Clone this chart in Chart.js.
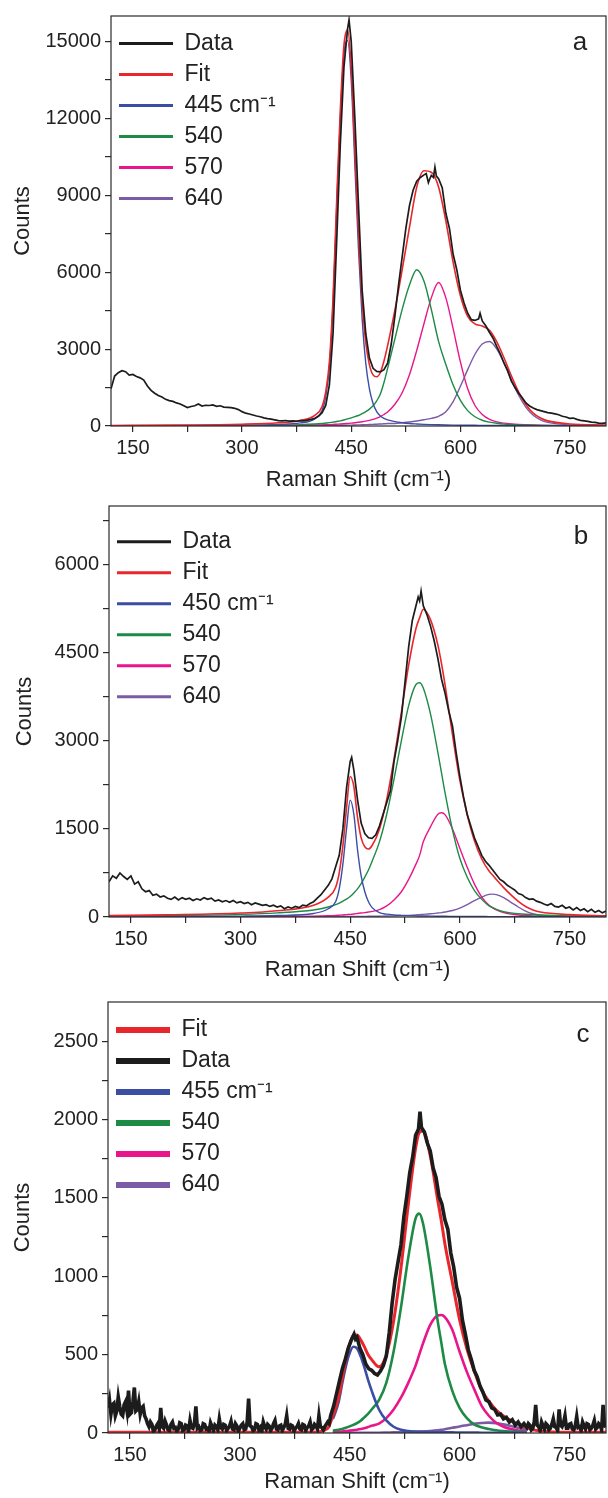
<!DOCTYPE html>
<html>
<head>
<meta charset="utf-8">
<script src="https://cdn.jsdelivr.net/npm/chart.js@4.4.1/dist/chart.umd.min.js"></script>
<style>
html,body{margin:0;padding:0;background:#fff;}
body{width:608px;height:1498px;position:relative;overflow:hidden;}
canvas{position:absolute;left:0;}
</style>
</head>
<body>
<canvas id="ca" width="608" height="500" style="top:0px"></canvas>
<canvas id="cb" width="608" height="500" style="top:490px"></canvas>
<canvas id="cc" width="608" height="518" style="top:980px"></canvas>
<script>
// ---------- axis ticks ----------
const xTickVals = [150,225,300,375,450,525,600,675,750];
const xLabelVals = [150,300,450,600,750];
const yTicksA = [0,1500,3000,4500,6000,7500,9000,10500,12000,13500,15000];
const yLabelsA = [0,3000,6000,9000,12000,15000];
const yTicksB = [0,750,1500,2250,3000,3750,4500,5250,6000,6750];
const yLabelsB = [0,1500,3000,4500,6000];
const yTicksC = [0,250,500,750,1000,1250,1500,1750,2000,2250,2500];
const yLabelsC = [0,500,1000,1500,2000,2500];

// ---------- legend labels ----------
const labelsA = ['Data','Fit','445 cm\u207B\u00B9','540','570','640'];
const labelsB = ['Data','Fit','450 cm\u207B\u00B9','540','570','640'];
const labelsC = ['Fit','Data','455 cm\u207B\u00B9','540','570','640'];

// ---------- panel a ----------
const gridA = [120,200,300,350,380,400,410,415,420,425,430,435,440,445,450,455,460,465,470,475,480,485,490,495,500,510,520,530,540,550,560,570,580,590,600,610,620,630,640,650,660,670,680,690,700,710,720,750,800];
const fitA = [20,35,70,126,217,415,764,1335,2507,4986,8771,12306,14853,15458,13968,10732,7499,4893,3253,2388,1994,1920,2088,2536,3135,4520,6100,7750,9323,9959,9904,9327,8001,6386,5082,4279,3987,3900,3733,3286,2654,1956,1322,830,503,310,200,81,37];
const p445A = [10,15,30,60,120,280,600,1150,2300,4750,8500,12000,14500,15050,13500,10200,6900,4200,2450,1450,880,560,390,300,240,170,125,95,78,64,54,47,41,36,32,29,27,25,23,21,19,18,17,16,15,14,13,11,8];
const p540A = [5,10,20,35,55,80,100,115,130,150,175,200,235,275,320,365,410,480,560,660,790,980,1250,1700,2250,3400,4550,5500,6100,5650,4550,3300,2400,1600,1000,600,360,225,150,105,75,58,45,36,30,25,21,14,8];
const p570A = [3,6,12,20,28,38,45,50,55,62,70,78,88,100,112,127,145,165,190,220,260,310,370,450,550,850,1300,2000,2950,4000,5000,5600,5000,3800,2500,1450,800,450,260,160,110,80,60,48,38,31,26,16,9];
const p640A = [2,4,8,11,14,17,19,20,22,24,26,28,30,33,36,40,44,48,53,58,64,70,78,86,95,100,125,155,195,245,300,380,560,950,1550,2200,2800,3200,3300,3000,2450,1800,1200,730,420,240,140,40,12];
const dataA = [[120,1450],[125,1950],[130,2080],[135,2160],[140,2120],[145,1990],[150,2010],[155,1930],[160,1880],[165,1790],[170,1560],[175,1390],[180,1280],[185,1190],[190,1130],[195,1040],[200,990],[205,960],[210,900],[215,860],[220,790],[225,720],[230,760],[235,790],[240,860],[245,780],[250,810],[255,800],[260,820],[265,770],[270,790],[275,740],[280,730],[285,720],[290,690],[295,640],[300,560],[305,500],[310,470],[315,430],[320,390],[325,360],[330,320],[335,290],[340,270],[345,240],[350,210],[355,200],[360,215],[365,190],[370,200],[375,185],[380,210],[385,200],[390,230],[395,260],[400,300],[405,380],[410,520],[415,800],[420,1600],[425,3600],[430,7200],[435,11000],[440,14000],[445,15500],[447,15850],[450,15000],[455,12000],[460,8600],[465,5300],[470,3600],[475,2650],[480,2250],[485,2130],[490,2110],[495,2200],[500,2450],[505,3200],[510,4300],[515,5500],[520,6600],[525,7700],[530,8600],[535,9200],[540,9550],[545,9700],[550,9800],[553,9850],[556,9500],[558,9650],[560,9780],[563,9700],[565,10100],[567,9750],[570,9650],[575,9300],[580,8300],[585,7700],[590,6700],[595,6100],[600,5300],[605,4800],[610,4400],[615,4150],[620,4120],[625,4180],[627,4400],[630,4100],[635,3900],[640,3650],[645,3420],[650,3100],[655,2800],[660,2450],[665,2150],[670,1750],[675,1500],[680,1280],[685,1100],[690,900],[695,780],[700,700],[705,640],[710,600],[715,560],[720,520],[725,500],[730,470],[735,440],[740,380],[745,350],[750,300],[755,310],[760,260],[765,220],[770,200],[775,180],[780,150],[785,140],[790,110],[795,100],[800,120]];

// ---------- panel b ----------
const gridB = [120,200,300,350,400,420,430,435,440,445,450,455,460,465,470,475,480,490,500,510,520,530,540,545,550,560,570,575,580,590,600,610,620,630,640,645,650,660,670,680,690,700,710,750,800];
const fitB = [23,37,67,106,200,338,504,753,1213,1853,2394,2221,1700,1348,1196,1157,1217,1494,2004,2694,3481,4291,4914,5098,5242,5060,4631,4312,3937,3101,2330,1749,1298,988,782,712,637,501,376,265,178,120,84,40,22];
const p450B = [5,8,15,25,60,140,260,480,900,1500,1990,1750,1150,700,430,260,160,75,48,35,28,23,19,18,17,15,13,12,12,11,10,9,8,8,7,7,7,6,6,5,5,5,5,4,3];
const p540B = [15,25,45,70,120,170,210,235,270,305,350,410,480,570,680,800,950,1280,1750,2350,3000,3600,3960,3990,3900,3450,2800,2450,2100,1480,1000,680,450,300,190,160,130,90,70,55,46,40,34,20,12];
const p570B = [2,3,5,8,15,22,27,31,35,40,45,52,60,68,75,85,95,125,190,290,430,640,900,1050,1280,1540,1750,1775,1740,1500,1170,850,560,340,200,155,120,75,50,35,27,20,15,8,4];
const p640B = [1,1,2,3,5,6,7,7,8,8,9,9,10,10,11,12,12,14,16,19,23,28,35,40,45,55,68,75,85,110,150,210,280,340,385,390,380,330,250,170,100,55,30,8,3];
const dataB = [[120,600],[125,700],[130,660],[135,750],[140,690],[145,640],[150,700],[155,560],[160,600],[165,480],[170,430],[175,450],[180,370],[185,390],[190,340],[195,360],[200,320],[205,300],[210,340],[215,290],[220,330],[225,300],[230,320],[235,280],[240,310],[245,290],[250,330],[255,300],[260,320],[265,270],[270,290],[275,260],[280,280],[285,250],[290,280],[295,240],[300,260],[305,230],[310,250],[315,210],[320,240],[325,220],[330,200],[335,210],[340,180],[345,200],[350,170],[355,190],[360,140],[365,170],[370,150],[375,180],[380,160],[385,200],[390,190],[395,230],[400,260],[405,320],[410,380],[415,460],[420,540],[425,650],[430,850],[435,1050],[440,1500],[445,2200],[450,2650],[452,2720],[455,2500],[460,2000],[465,1600],[470,1420],[475,1350],[480,1340],[485,1400],[490,1550],[495,1750],[500,1950],[505,2150],[510,2650],[515,3000],[520,3400],[525,4000],[530,4600],[535,5050],[540,5300],[543,5450],[545,5380],[547,5550],[550,5300],[555,5150],[560,4950],[565,4700],[570,4400],[575,4050],[580,3800],[585,3500],[590,3250],[595,2800],[600,2400],[605,2050],[610,1750],[615,1550],[620,1350],[625,1200],[630,1050],[635,950],[640,880],[645,800],[650,720],[655,640],[660,600],[665,540],[670,500],[675,460],[680,400],[685,380],[690,330],[695,300],[700,310],[705,270],[710,250],[715,220],[720,200],[725,230],[730,180],[735,170],[740,200],[745,150],[750,170],[755,120],[760,160],[765,110],[770,140],[775,90],[780,130],[785,80],[790,110],[795,70],[800,100]];

// ---------- panel c ----------
const gridC = [427,430,435,440,445,450,455,460,465,470,475,480,490,500,510,520,530,540,545,550,560,570,575,580,590,600,610,620,630,640,650,660,670,680,692];
const p455C = [90,125,200,320,430,510,550,540,490,420,340,270,150,80,40,20,12,9,8,7,6,5,5,4,4,3,3,3,2,2,2,2,1,1,1];
const p540C = [15,17,21,26,33,42,52,63,78,100,122,150,210,320,520,800,1120,1370,1400,1340,1060,720,580,440,270,160,95,55,36,25,17,12,9,7,5];
const p570C = [5,6,8,10,12,15,18,21,25,30,38,46,60,95,150,225,320,430,500,570,690,750,753,740,660,520,390,280,175,110,65,40,25,15,8];
const p640C = [0,0,0,0,0,0,1,1,1,1,1,2,2,3,4,5,6,8,9,10,13,17,20,24,33,42,50,58,64,66,63,55,45,33,20];
const fitC = [[120,5],[170,5],[200,5],[250,5],[300,5],[350,5],[400,5],[420,30],[427,110],[430,148],[435,229],[440,356],[445,475],[450,567],[455,621],[460,625],[465,594],[470,551],[475,501],[480,468],[490,422],[500,498],[510,714],[520,1050],[530,1458],[540,1817],[545,1917],[550,1927],[560,1769],[570,1492],[575,1358],[580,1208],[590,967],[600,725],[610,538],[620,396],[630,277],[640,203],[650,147],[660,109],[670,80],[680,56],[692,34],[700,20],[750,5],[800,5]];
const dataC = [[120,160],[122,210],[124,120],[126,180],[128,190],[130,110],[132,140],[134,230],[136,170],[138,120],[140,110],[142,180],[144,200],[146,140],[148,270],[150,120],[152,130],[154,200],[156,290],[158,140],[160,150],[162,200],[164,120],[166,160],[168,170],[170,110],[172,90],[174,60],[176,40],[178,70],[180,55],[182,10],[184,20],[186,45],[188,60],[190,25],[192,160],[194,40],[196,30],[198,75],[200,50],[202,20],[204,15],[206,55],[208,70],[210,30],[212,35],[214,10],[216,25],[218,65],[220,60],[222,15],[224,20],[226,50],[228,45],[230,10],[232,80],[234,35],[236,30],[238,60],[240,170],[242,30],[244,40],[246,15],[248,20],[250,60],[252,55],[254,25],[256,30],[258,10],[260,65],[262,40],[264,15],[266,50],[268,40],[270,20],[272,90],[274,35],[276,25],[278,55],[280,50],[282,15],[284,30],[286,45],[288,75],[290,25],[292,20],[294,60],[296,45],[298,10],[300,30],[302,50],[304,60],[306,20],[308,25],[310,70],[312,220],[314,45],[316,40],[318,15],[320,20],[322,60],[324,55],[326,20],[328,35],[330,10],[332,70],[334,40],[336,25],[338,55],[340,45],[342,15],[344,30],[346,60],[348,80],[350,25],[352,20],[354,45],[356,50],[358,15],[360,35],[362,55],[364,110],[366,30],[368,25],[370,50],[372,45],[374,10],[376,30],[378,40],[380,60],[382,25],[384,20],[386,55],[388,50],[390,15],[392,35],[394,45],[396,70],[398,20],[400,30],[402,55],[404,45],[406,25],[408,110],[410,40],[412,35],[414,20],[416,40],[418,55],[420,70],[422,60],[424,110],[428,170],[432,250],[436,330],[440,410],[444,470],[448,540],[452,590],[456,630],[458,600],[460,610],[464,540],[468,500],[472,440],[476,410],[480,400],[484,380],[488,370],[492,395],[496,430],[500,490],[504,640],[508,830],[512,980],[516,1090],[520,1200],[524,1380],[528,1510],[532,1660],[536,1760],[540,1900],[544,1940],[546,2050],[548,1950],[552,1920],[556,1850],[560,1800],[564,1690],[568,1630],[572,1510],[576,1460],[580,1360],[584,1300],[588,1150],[592,1060],[596,930],[600,860],[604,720],[608,630],[612,530],[616,470],[620,400],[624,360],[628,300],[632,260],[636,210],[640,200],[644,160],[648,150],[652,115],[656,120],[660,90],[664,100],[668,70],[672,85],[676,50],[680,70],[684,40],[688,60],[692,35],[694,60],[696,50],[698,20],[700,30],[702,70],[704,180],[706,50],[708,40],[710,15],[712,70],[714,45],[716,25],[718,60],[720,50],[722,20],[724,30],[726,55],[728,90],[730,40],[732,35],[734,15],[736,150],[738,50],[740,40],[742,65],[744,110],[746,30],[748,30],[750,55],[752,60],[754,25],[756,20],[758,45],[760,105],[762,35],[764,40],[766,15],[768,70],[770,45],[772,25],[774,60],[776,55],[778,20],[780,30],[782,50],[784,80],[786,25],[788,35],[790,60],[792,50],[794,20],[796,180],[798,45],[800,40]];

// ---------- styling ----------
const FONT = '"Liberation Sans", Arial, Helvetica, sans-serif';
const COL = {data:'#1c1c1c', fit:'#e8262b', blue:'#3b4ea3', green:'#1d8a45', pink:'#e8168a', purple:'#7b5aa6'};
Chart.defaults.font.family = FONT;
Chart.defaults.color = '#222';

const xy = (grid, vals) => grid.map((x, i) => ({x: x, y: vals[i]}));
const pts = p => p.map(q => ({x: q[0], y: q[1]}));

function ds(label, data, color, width, order, smooth) {
  return {label, data, borderColor: color, backgroundColor: color, borderWidth: width,
    pointRadius: 0, fill: false, order: order,
    tension: smooth ? 0.4 : 0, cubicInterpolationMode: smooth ? 'monotone' : 'default'};
}

const framePlugin = {
  id: 'frame',
  afterDraw(chart, args, o) {
    const {ctx, chartArea: a} = chart;
    ctx.save();
    ctx.strokeStyle = '#2a2a2a';
    ctx.lineWidth = 1.2;
    ctx.strokeRect(a.left, a.top, a.right - a.left, a.bottom - a.top);
    ctx.fillStyle = '#222';
    ctx.font = '26px ' + FONT;
    ctx.textAlign = 'center';
    ctx.textBaseline = 'middle';
    ctx.fillText(o.letter, o.lx, o.ly);
    ctx.restore();
  }
};

function gridOpts() {
  return {display: true, drawOnChartArea: false, drawTicks: true, tickLength: 6,
    color: '#2a2a2a', tickColor: '#2a2a2a', lineWidth: 1.2};
}

function makePanel(id, P) {
  new Chart(document.getElementById(id), {
    type: 'line',
    data: {datasets: P.datasets},
    plugins: [framePlugin],
    options: {
      responsive: false, animation: false, devicePixelRatio: 1,
      layout: {padding: {top: P.padTop, right: 2, left: 0, bottom: 0}},
      plugins: {
        legend: {
          position: 'chartArea', align: 'start',
          title: {display: true, text: ' ', padding: {top: P.legPad, bottom: 0}, font: {size: 10}},
          labels: {
            boxWidth: 54, boxHeight: P.swatch, padding: 8,
            font: {size: 23, family: FONT}, color: '#222',
            generateLabels: ch => ch.data.datasets.map((d, i) => ({
              text: d.label, fillStyle: d.borderColor, strokeStyle: d.borderColor,
              lineWidth: 0, hidden: false, datasetIndex: i, fontColor: '#222'}))
          }
        },
        tooltip: {enabled: false},
        frame: {letter: P.letter, lx: P.lx, ly: P.ly}
      },
      scales: {
        x: {
          type: 'linear', min: 120, max: 800,
          afterBuildTicks: s => { s.ticks = xTickVals.map(v => ({value: v})); },
          afterFit: s => { s.height = P.xH; },
          ticks: {autoSkip: false, maxRotation: 0, minRotation: 0, padding: 4,
            font: {size: 20, family: FONT}, color: '#222',
            callback: v => xLabelVals.includes(v) ? String(v) : ''},
          grid: gridOpts(),
          border: {display: false},
          title: {display: true, text: 'Raman Shift (cm\u207B\u00B9)', color: '#222',
            font: {size: 22, family: FONT}, padding: {top: 0, bottom: P.xTitlePad}}
        },
        y: {
          type: 'linear', min: 0, max: P.yMax,
          afterBuildTicks: s => { s.ticks = P.yTicks.map(v => ({value: v})); },
          afterFit: s => { s.width = P.yW; },
          ticks: {autoSkip: false, padding: 4, font: {size: 20, family: FONT}, color: '#222',
            callback: v => P.yLabels.includes(v) ? String(v) : ''},
          grid: gridOpts(),
          border: {display: false},
          title: {display: true, text: 'Counts', color: '#222',
            font: {size: 22, family: FONT}, padding: {top: P.yTitlePad, bottom: 0}}
        }
      }
    }
  });
}

makePanel('ca', {
  padTop: 14, xH: 74, yW: 111, xTitlePad: 6.8, yTitlePad: 9.8, legPad: 12, swatch: 3,
  yMax: 16000, yTicks: yTicksA, yLabels: yLabelsA, letter: 'a', lx: 580, ly: 43,
  datasets: [
    ds(labelsA[0], pts(dataA), COL.data, 1.7, 0, false),
    ds(labelsA[1], xy(gridA, fitA), COL.fit, 1.6, 1, true),
    ds(labelsA[2], xy(gridA, p445A), COL.blue, 1.4, 2, true),
    ds(labelsA[3], xy(gridA, p540A), COL.green, 1.4, 2, true),
    ds(labelsA[4], xy(gridA, p570A), COL.pink, 1.4, 2, true),
    ds(labelsA[5], xy(gridA, p640A), COL.purple, 1.4, 2, true)
  ]
});

makePanel('cb', {
  padTop: 16, xH: 73, yW: 109, xTitlePad: 6.8, yTitlePad: 12, legPad: 20.2, swatch: 3,
  yMax: 7000, yTicks: yTicksB, yLabels: yLabelsB, letter: 'b', lx: 581, ly: 47,
  datasets: [
    ds(labelsB[0], pts(dataB), COL.data, 1.7, 0, false),
    ds(labelsB[1], xy(gridB, fitB), COL.fit, 1.6, 1, true),
    ds(labelsB[2], xy(gridB, p450B), COL.blue, 1.4, 2, true),
    ds(labelsB[3], xy(gridB, p540B), COL.green, 1.4, 2, true),
    ds(labelsB[4], xy(gridB, p570B), COL.pink, 1.4, 2, true),
    ds(labelsB[5], xy(gridB, p640B), COL.purple, 1.4, 2, true)
  ]
});

makePanel('cc', {
  padTop: 22, xH: 65, yW: 108, xTitlePad: 3.1, yTitlePad: 9.8, legPad: 18.5, swatch: 6,
  yMax: 2750, yTicks: yTicksC, yLabels: yLabelsC, letter: 'c', lx: 583, ly: 55,
  datasets: [
    ds(labelsC[0], pts(fitC), COL.fit, 3, 1, true),
    ds(labelsC[1], pts(dataC), COL.data, 3.6, 0, false),
    ds(labelsC[2], xy(gridC, p455C), COL.blue, 2.6, 2, true),
    ds(labelsC[3], xy(gridC, p540C), COL.green, 2.6, 2, true),
    ds(labelsC[4], xy(gridC, p570C), COL.pink, 2.6, 2, true),
    ds(labelsC[5], xy(gridC, p640C), COL.purple, 2.6, 2, true)
  ]
});
</script>
</body>
</html>
